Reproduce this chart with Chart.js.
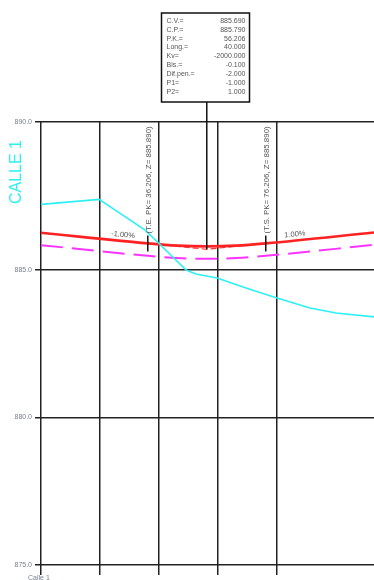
<!DOCTYPE html>
<html>
<head>
<meta charset="utf-8">
<script src="https://cdn.jsdelivr.net/npm/chart.js@4.4.1/dist/chart.umd.min.js"></script>
<style>
    html, body { margin: 0; padding: 0; background: #fff; }
    #wrap { width: 374px; height: 580px; position: relative; }
</style>
</head>
<body>
<div id="wrap"><canvas id="perfil"></canvas></div>
<script>
// Terreno (cian)
const terrenoPk = [0, 19.7, 35.3, 40.3, 49.2, 52.5, 59.7, 70, 80, 91.2, 100, 112.9];
const terrenoZ = [887.21, 887.38, 886.34, 885.86, 884.99, 884.85, 884.72, 884.36, 884.04, 883.70, 883.53, 883.40];

// Rasante (rojo)
const rasantePk = [0, 36.206, 46.206, 56.206, 66.206, 76.206, 112.9];
const rasanteZ = [886.252, 885.890, 885.815, 885.790, 885.815, 885.890, 886.257];

// Tangentes hasta el vertice
const tangentePk = [36.206, 56.206, 76.206];
const tangenteZ = [885.890, 885.690, 885.890];

// Subrasante (magenta)
const subrasantePk = [0, 36.206, 46.206, 56.206, 66.206, 76.206, 112.9];
const subrasanteZ = [885.83, 885.47, 885.395, 885.37, 885.395, 885.47, 885.84];

const yMin = 875;
const yMax = 890;
const xMin = 0;
const xMax = 112.9;
const xStep = 20;

// Datos del acuerdo vertical
const verticePk = 56.206;
const verticeZ = 885.690;
const tangenciaTipo = ['T.E.', 'T.S.'];
const tangenciaPk = [36.206, 76.206];
const tangenciaZ = [885.890, 885.890];
const pendienteTexto = ['-1.00%', '1.00%'];
const pendientePk = [27.8, 86.1];
const pendienteValor = [-1, 1];

const fichaEtiquetas = ['C.V.=', 'C.P.=', 'P.K.=', 'Long.=', 'Kv=', 'Bis.=', 'Dif.pen.=', 'P1=', 'P2='];
const fichaValores = ['885.690', '885.790', '56.206', '40.000', '-2000.000', '-0.100', '-2.000', '-1.000', '1.000'];

const nombreEje = 'CALLE 1';
const nombrePie = 'Calle 1';

const FONT = '"Liberation Sans", Arial, sans-serif';

function toPoints(xs, ys) {
    return xs.map((x, i) => ({ x: x, y: ys[i] }));
}

// cota de la rasante en un pk (tramos rectos)
function cotaRasante(pk) {
    return verticeZ + Math.abs(pk - verticePk) * 0.01;
}

const anotaciones = {
    id: 'anotaciones',
    afterDatasetsDraw(chart) {
        const ctx = chart.ctx;
        const xs = chart.scales.x;
        const ys = chart.scales.y;
        ctx.save();

        // ficha del vertice
        const vx = xs.getPixelForValue(verticePk);
        const vy = ys.getPixelForValue(verticeZ);
        const boxW = 88, boxH = 89, boxTop = 13;
        const boxL = Math.round(vx - boxW / 2) - 1.5;
        ctx.strokeStyle = '#111';
        ctx.lineWidth = 1.5;
        ctx.strokeRect(boxL, boxTop, boxW, boxH);
        ctx.beginPath();
        ctx.moveTo(vx, boxTop + boxH);
        ctx.lineTo(vx, vy);
        ctx.stroke();

        ctx.font = '7px ' + FONT;
        ctx.fillStyle = '#555';
        ctx.textBaseline = 'middle';
        fichaEtiquetas.forEach((t, i) => {
            const y = boxTop + 8 + i * 8.85;
            ctx.textAlign = 'left';
            ctx.fillText(t, boxL + 5, y);
            ctx.textAlign = 'right';
            ctx.fillText(fichaValores[i], boxL + boxW - 4, y);
        });

        // puntos de tangencia
        tangenciaPk.forEach((pk, i) => {
            const px = xs.getPixelForValue(pk);
            const py = ys.getPixelForValue(tangenciaZ[i]);
            ctx.strokeStyle = '#111';
            ctx.lineWidth = 1.5;
            ctx.beginPath();
            ctx.moveTo(px, py - 8);
            ctx.lineTo(px, py + 8);
            ctx.stroke();

            ctx.save();
            ctx.translate(px + 1, py - 10);
            ctx.rotate(-Math.PI / 2);
            ctx.font = '7.9px ' + FONT;
            ctx.fillStyle = '#555';
            ctx.textAlign = 'left';
            ctx.textBaseline = 'middle';
            ctx.fillText('(' + tangenciaTipo[i] + ' PK= ' + pk.toFixed(3) + ', Z= ' + tangenciaZ[i].toFixed(3) + ')', 0, 0);
            ctx.restore();
        });

        // pendientes
        pendienteTexto.forEach((t, i) => {
            const pk = pendientePk[i];
            const px = xs.getPixelForValue(pk);
            const py = ys.getPixelForValue(cotaRasante(pk));
            const dx = xs.getPixelForValue(pk + 10) - px;
            const dy = ys.getPixelForValue(cotaRasante(pk) + pendienteValor[i] * 0.1) - py;
            ctx.save();
            ctx.translate(px, py - 6);
            ctx.rotate(Math.atan2(dy, dx));
            ctx.font = '7.5px ' + FONT;
            ctx.fillStyle = '#555';
            ctx.textAlign = 'center';
            ctx.textBaseline = 'middle';
            ctx.fillText(t, 0, 0);
            ctx.restore();
        });

        // nombre del eje
        ctx.save();
        ctx.translate(17, 172);
        ctx.rotate(-Math.PI / 2);
        ctx.font = '16px ' + FONT;
        ctx.fillStyle = '#2ef0f4';
        ctx.textAlign = 'center';
        ctx.textBaseline = 'middle';
        ctx.fillText(nombreEje, 0, 0);
        ctx.restore();

        ctx.font = '7px ' + FONT;
        ctx.fillStyle = '#7a8090';
        ctx.textAlign = 'left';
        ctx.textBaseline = 'middle';
        ctx.fillText(nombrePie, 28, 578);

        ctx.restore();
    }
};

new Chart(document.getElementById('perfil'), {
    type: 'line',
    data: {
        datasets: [
            {
                label: 'Terreno',
                data: toPoints(terrenoPk, terrenoZ),
                borderColor: '#2ef0f4',
                borderWidth: 1.6,
                pointRadius: 0,
                tension: 0
            },
            {
                label: 'Rasante',
                data: toPoints(rasantePk, rasanteZ),
                borderColor: '#ff2222',
                borderWidth: 2.6,
                pointRadius: 0,
                cubicInterpolationMode: 'monotone'
            },
            {
                label: 'Tangentes',
                data: toPoints(tangentePk, tangenteZ),
                borderColor: '#ff3333',
                borderWidth: 1.2,
                borderDash: [6, 3],
                pointRadius: 0
            },
            {
                label: 'Subrasante',
                data: toPoints(subrasantePk, subrasanteZ),
                borderColor: '#ff33ff',
                borderWidth: 2,
                borderDash: [22, 9],
                pointRadius: 0,
                cubicInterpolationMode: 'monotone'
            }
        ]
    },
    options: {
        responsive: true,
        maintainAspectRatio: false,
        animation: false,
        layout: { padding: { top: 122, right: 0, bottom: 0, left: 0 } },
        plugins: {
            legend: { display: false },
            tooltip: { enabled: false }
        },
        scales: {
            x: {
                type: 'linear',
                min: xMin,
                max: xMax,
                ticks: { display: false, stepSize: xStep },
                afterBuildTicks: (scale) => {
                    scale.ticks = scale.ticks.filter(t => t.value % xStep === 0);
                },
                afterFit: (scale) => { scale.height = 15; },
                grid: { color: '#222', lineWidth: 1.5, tickLength: 10, drawTicks: true },
                border: { display: false }
            },
            y: {
                min: yMin,
                max: yMax,
                ticks: {
                    stepSize: 5,
                    padding: 3,
                    color: '#7a8090',
                    font: { size: 7, family: FONT },
                    callback: (v) => v.toFixed(1)
                },
                afterFit: (scale) => { scale.width = 41; },
                grid: { color: '#222', lineWidth: 1.5, tickLength: 6 },
                border: { display: false }
            }
        }
    },
    plugins: [anotaciones]
});
</script>
</body>
</html>
